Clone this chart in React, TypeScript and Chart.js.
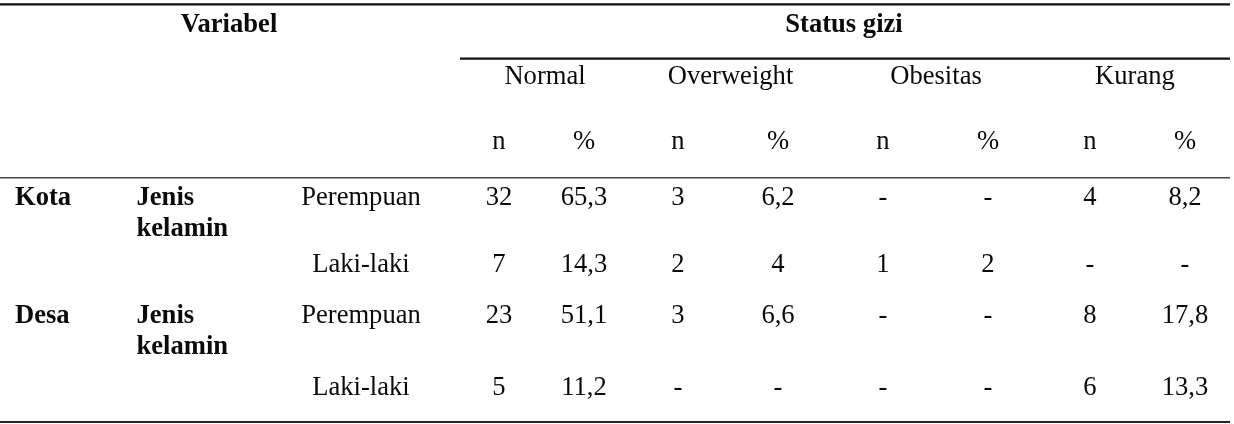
import React, { useEffect, useRef } from "react";
import { Chart, registerables } from "chart.js";

Chart.register(...registerables);

// ---------- DATA ----------
const topHeaders = ["Variabel", "Status gizi"];
const groups = ["Normal", "Overweight", "Obesitas", "Kurang"];
const subHeaders = ["n", "%"];
const regions = ["Kota", "Desa"];
const variableLines = ["Jenis", "kelamin"];
const genders = ["Perempuan", "Laki-laki", "Perempuan", "Laki-laki"];

const nNormal: (number | null)[] = [32, 7, 23, 5];
const pctNormal: (number | null)[] = [65.3, 14.3, 51.1, 11.2];
const nOverweight: (number | null)[] = [3, 2, 3, null];
const pctOverweight: (number | null)[] = [6.2, 4, 6.6, null];
const nObesitas: (number | null)[] = [null, 1, null, null];
const pctObesitas: (number | null)[] = [null, 2, null, null];
const nKurang: (number | null)[] = [4, null, 8, 6];
const pctKurang: (number | null)[] = [8.2, null, 17.8, 13.3];

// ---------- LAYOUT (table units on linear scales) ----------
const W = 1234;
const H = 424;
const TOP_HEADER_X = [229, 844];
const GROUP_X = [545, 730.5, 936, 1135];
const N_X = [499, 678, 883, 1090];
const PCT_X = [584, 778, 988, 1185];
const REGION_X = 15;
const VAR_X = 136.5;
const GENDER_X = 361;
const Y_TOP_HEADER = 32;
const Y_GROUP = 84;
const Y_SUB = 149;
const ROW_Y = [204.5, 271.5, 322.5, 394.5];
const SECOND_LINE_DY = 31.5;

const RULES = [
  { x0: 0, x1: 1230, y: 4.3, w: 2.2, c: "#111" },
  { x0: 460, x1: 1230, y: 58.6, w: 2.2, c: "#111" },
  { x0: 0, x1: 1230, y: 177.8, w: 1.6, c: "#444" },
  { x0: 0, x1: 1230, y: 422, w: 2.2, c: "#222" },
];

const FONT = '"Liberation Serif", "Times New Roman", serif';
const SIZE = 26.6;

const fmt = (v: number | null) => (v === null ? "-" : String(v).replace(".", ","));

type Cell = { x: number; y: number; text: string; bold?: boolean; align: CanvasTextAlign };

function buildCells(): Cell[] {
  const cells: Cell[] = [];
  topHeaders.forEach((t, i) => cells.push({ x: TOP_HEADER_X[i], y: Y_TOP_HEADER, text: t, bold: true, align: "center" }));
  groups.forEach((g, i) => {
    cells.push({ x: GROUP_X[i], y: Y_GROUP, text: g, align: "center" });
    cells.push({ x: N_X[i], y: Y_SUB, text: subHeaders[0], align: "center" });
    cells.push({ x: PCT_X[i], y: Y_SUB, text: subHeaders[1], align: "center" });
  });
  regions.forEach((r, i) => {
    const y = ROW_Y[i * 2];
    cells.push({ x: REGION_X, y, text: r, bold: true, align: "left" });
    variableLines.forEach((v, j) =>
      cells.push({ x: VAR_X, y: y + j * SECOND_LINE_DY, text: v, bold: true, align: "left" })
    );
  });
  const nSeries = [nNormal, nOverweight, nObesitas, nKurang];
  const pSeries = [pctNormal, pctOverweight, pctObesitas, pctKurang];
  genders.forEach((g, r) => {
    const y = ROW_Y[r];
    cells.push({ x: GENDER_X, y, text: g, align: "center" });
    nSeries.forEach((s, k) => cells.push({ x: N_X[k], y, text: fmt(s[r]), align: "center" }));
    pSeries.forEach((s, k) => cells.push({ x: PCT_X[k], y, text: fmt(s[r]), align: "center" }));
  });
  return cells;
}

export default function App() {
  const ref = useRef<HTMLCanvasElement | null>(null);

  useEffect(() => {
    document.body.style.margin = "0";
    const canvas = ref.current;
    if (!canvas) return;
    const cells = buildCells();

    const textPlugin = {
      id: "tableText",
      afterDatasetsDraw(chart: any) {
        const ctx = chart.ctx as CanvasRenderingContext2D;
        const xs = chart.scales.x;
        const ys = chart.scales.y;
        ctx.save();
        ctx.fillStyle = "#0a0a0a";
        ctx.textBaseline = "alphabetic";
        cells.forEach((c) => {
          ctx.font = `${c.bold ? "bold " : ""}${SIZE}px ${FONT}`;
          ctx.textAlign = c.align;
          ctx.fillText(c.text, xs.getPixelForValue(c.x), ys.getPixelForValue(c.y));
        });
        ctx.restore();
      },
    };

    const bgPlugin = {
      id: "bg",
      beforeDraw(chart: any) {
        const ctx = chart.ctx;
        ctx.save();
        ctx.fillStyle = "#fff";
        ctx.fillRect(0, 0, chart.width, chart.height);
        ctx.restore();
      },
    };

    const chart = new Chart(canvas, {
      type: "scatter",
      data: {
        datasets: RULES.map((r) => ({
          data: [
            { x: r.x0, y: r.y },
            { x: r.x1, y: r.y },
          ],
          showLine: true,
          borderColor: r.c,
          borderWidth: r.w,
          pointRadius: 0,
          pointHoverRadius: 0,
          fill: false,
        })),
      },
      options: {
        animation: false,
        responsive: false,
        maintainAspectRatio: false,
        events: [],
        layout: { padding: 0 },
        plugins: { legend: { display: false }, tooltip: { enabled: false }, title: { display: false } },
        scales: {
          x: { type: "linear", min: 0, max: W, display: false },
          y: { type: "linear", min: 0, max: H, reverse: true, display: false },
        },
      },
      plugins: [bgPlugin, textPlugin],
    });
    return () => chart.destroy();
  }, []);

  return (
    <div style={{ position: "absolute", left: 0, top: 0, width: W, height: H }}>
      <canvas ref={ref} width={W} height={H} style={{ width: W, height: H, display: "block" }} />
    </div>
  );
}
